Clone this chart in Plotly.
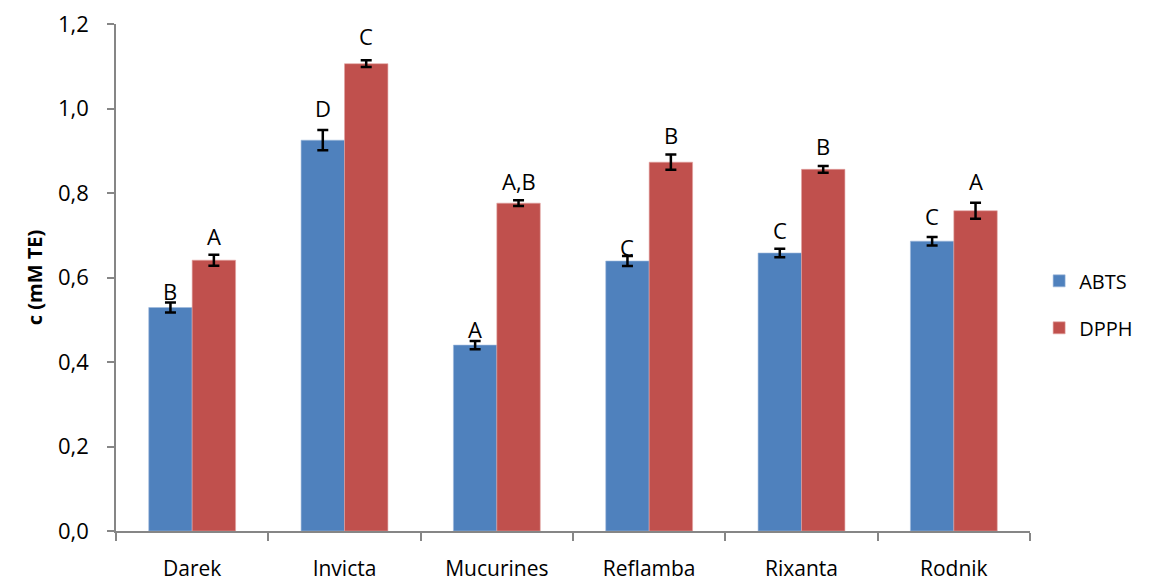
import plotly.graph_objects as go

# Cultivars and antioxidant capacity (mM Trolox equivalents)
cultivars = ["Darek", "Invicta", "Mucurines", "Reflamba", "Rixanta", "Rodnik"]

abts_mean = [0.529, 0.925, 0.440, 0.639, 0.658, 0.686]
abts_err = [0.012, 0.024, 0.010, 0.012, 0.010, 0.010]
abts_letters = ["B", "D", "A", "C", "C", "C"]

dpph_mean = [0.641, 1.106, 0.776, 0.873, 0.856, 0.758]
dpph_err = [0.013, 0.008, 0.007, 0.018, 0.008, 0.019]
dpph_letters = ["A", "C", "A,B", "B", "B", "A"]

# pixel lift of each significance letter above its error bar
abts_lift = [-6, 5, -5, -8, 2, 4]
dpph_lift = [2, 7, 2, 3, 3, 5]

FONT = "Open Sans"
BLUE = "#4F81BD"
RED = "#C0504D"
AXIS = "#868686"

fig = go.Figure()

fig.add_trace(go.Bar(
    name="ABTS", x=cultivars, y=abts_mean,
    marker=dict(color=BLUE, line=dict(color="#9DB8DC", width=0.6)),
    error_y=dict(type="data", array=abts_err, visible=True,
                 color="black", thickness=2.5, width=5.5),
    legendgroup="abts",
))
fig.add_trace(go.Bar(
    name="DPPH", x=cultivars, y=dpph_mean,
    marker=dict(color=RED, line=dict(color="#E2A3A1", width=0.6)),
    error_y=dict(type="data", array=dpph_err, visible=True,
                 color="black", thickness=2.5, width=5.5),
    legendgroup="dpph",
))

# significance letters above the error bars
bargap = 0.43
half = (1 - bargap) / 4
for i, cat in enumerate(cultivars):
    for off, mean, err, txt, lift in (
        (-half, abts_mean[i], abts_err[i], abts_letters[i], abts_lift[i]),
        (half, dpph_mean[i], dpph_err[i], dpph_letters[i], dpph_lift[i]),
    ):
        fig.add_annotation(
            x=i + off, y=mean + err, xref="x", yref="y",
            text=txt, showarrow=False, yanchor="bottom", xanchor="center",
            yshift=lift, font=dict(family=FONT, size=22, color="black"),
        )

fig.update_layout(
    width=1153, height=584,
    margin=dict(l=116, r=123, t=24, b=53),
    paper_bgcolor="white", plot_bgcolor="white",
    barmode="group", bargap=bargap, bargroupgap=0,
    separators=", ",
    font=dict(family=FONT, size=22, color="black"),
    showlegend=True,
    legend=dict(
        x=1.01, xanchor="left", y=0.447, yanchor="middle",
        font=dict(family=FONT, size=20, color="black"),
        tracegroupgap=18, itemwidth=30,
    ),
    xaxis=dict(
        type="category", range=[-0.5, 5.5],
        showline=True, linecolor=AXIS, linewidth=1.5,
        ticks="outside", tickson="boundaries", ticklen=8, tickcolor=AXIS,
        tickwidth=1.5, showgrid=False, ticklabelstandoff=18,
        tickfont=dict(family=FONT, size=21), automargin=False,
    ),
    yaxis=dict(
        range=[0, 1.2], dtick=0.2, tickformat=".1f",
        showline=True, linecolor=AXIS, linewidth=1.5,
        ticks="outside", ticklen=7, tickcolor=AXIS, tickwidth=1.5,
        showgrid=False, zeroline=False, ticklabelstandoff=14,
        tickfont=dict(family=FONT, size=22), automargin=False,
        title=dict(text="<b>c (mM TE)</b>", standoff=10,
                   font=dict(family=FONT, size=20)),
    ),
)

fig.write_html("out.html")
